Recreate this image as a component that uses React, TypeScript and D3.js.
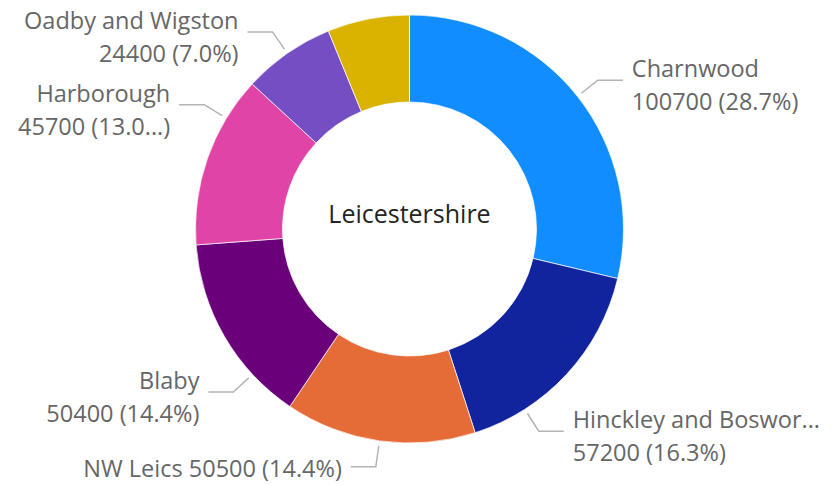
import React from "react";
import * as d3 from "d3";

const categories = ["Charnwood", "Hinckley and Bosworth", "NW Leics", "Blaby", "Harborough", "Oadby and Wigston", "Melton"];
const values = [100700, 57200, 50500, 50400, 45700, 24400, 21700];
const colors = ["#118DFF", "#12239E", "#E66C37", "#6B007B", "#E044A7", "#744EC2", "#D9B300"];
const centerTitle = "Leicestershire";
// label layout: angle (deg) of leader line, null = slice middle; label text shown
const labelAngles: (number | null)[] = [null, 147.4, null, 227.2, 301.2, null, null];
const labelShown = [true, true, true, true, true, true, false];
const labelOneLine = [false, false, true, false, false, false, false];
const labelNameText = ["Charnwood", "Hinckley and Boswor...", "NW Leics", "Blaby", "Harborough", "Oadby and Wigston", ""];
const labelValueText = ["100700 (28.7%)", "57200 (16.3%)", "50500 (14.4%)", "50400 (14.4%)", "45700 (13.0...)", "24400 (7.0%)", ""];

const W = 837, H = 485;
const cx = 409.5, cy = 229;
const outerR = 214, innerR = 127;
const FONT = "'Segoe UI', 'Open Sans', sans-serif";
const LFS = 23.5;

export default function App() {
  const pie = d3.pie<number>().sort(null).value((d) => d);
  const arcs = pie(values);
  const arc = d3.arc<d3.PieArcDatum<number>>().innerRadius(innerR).outerRadius(outerR);
  const rad = (deg: number) => (deg * Math.PI) / 180;
  void categories;

  return (
    <svg width={W} height={H} style={{ position: "absolute", left: 0, top: 0, background: "#fff" }}>
      <g transform={`translate(${cx},${cy})`}>
        {arcs.map((a, i) => (
          <path key={i} d={arc(a) || ""} fill={colors[i]} stroke="#fff" strokeWidth={0.7} />
        ))}
        <text x={0} y={-16} textAnchor="middle" dominantBaseline="central" fontFamily={FONT} fontSize={25} fill="#252423">
          {centerTitle}
        </text>
        {arcs.map((a, i) => {
          if (!labelShown[i]) return null;
          const ang = labelAngles[i] !== null ? rad(labelAngles[i] as number) : (a.startAngle + a.endAngle) / 2;
          const sx = Math.sin(ang), sy = -Math.cos(ang);
          const p0 = [sx * 219, sy * 219];
          const p1 = [sx * 240, sy * 240];
          const right = sx > 0;
          const p2 = [p1[0] + (right ? 25 : -25), p1[1]];
          const tx = p2[0] + (right ? 9 : -9);
          const anchor = right ? "start" : "end";
          return (
            <g key={"l" + i}>
              <polyline points={[p0, p1, p2].map((p) => p.join(",")).join(" ")} fill="none" stroke="#B3B3B3" strokeWidth={1.5} />
              {labelOneLine[i] ? (
                <text x={tx} y={p2[1] + 1} textAnchor={anchor} dominantBaseline="central" fontFamily={FONT} fontSize={LFS} fill="#666666">
                  {labelNameText[i] + " " + labelValueText[i]}
                </text>
              ) : (
                <>
                  <text x={tx} y={p2[1] - 12} textAnchor={anchor} dominantBaseline="central" fontFamily={FONT} fontSize={LFS} fill="#666666">
                    {labelNameText[i]}
                  </text>
                  <text x={tx} y={p2[1] + 21} textAnchor={anchor} dominantBaseline="central" fontFamily={FONT} fontSize={LFS} fill="#666666">
                    {labelValueText[i]}
                  </text>
                </>
              )}
            </g>
          );
        })}
      </g>
    </svg>
  );
}
